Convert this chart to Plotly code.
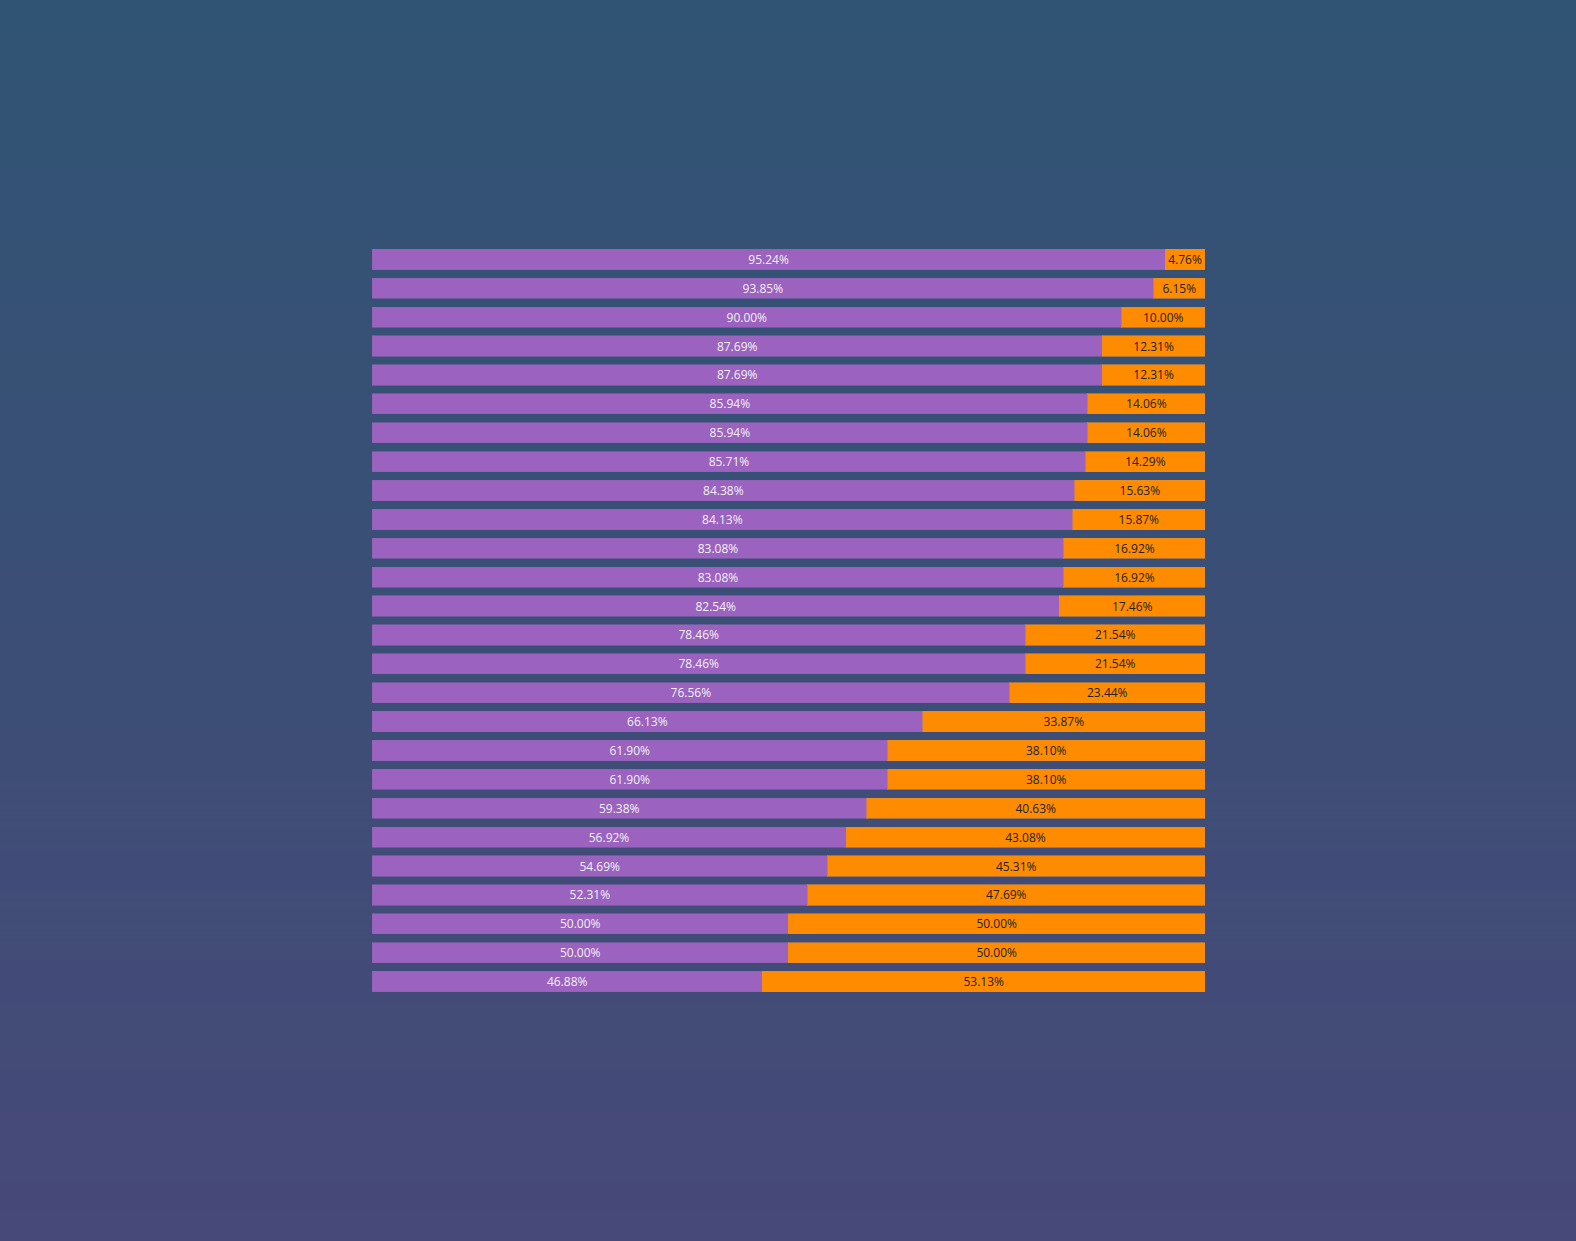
import plotly.graph_objects as go

categories = [f"Item {i}" for i in range(1, 27)]
share_a = [95.24, 93.85, 90.00, 87.69, 87.69, 85.94, 85.94, 85.71, 84.38, 84.13,
           83.08, 83.08, 82.54, 78.46, 78.46, 76.56, 66.13, 61.90, 61.90, 59.38,
           56.92, 54.69, 52.31, 50.00, 50.00, 46.88]
share_b = [4.76, 6.15, 10.00, 12.31, 12.31, 14.06, 14.06, 14.29, 15.63, 15.87,
           16.92, 16.92, 17.46, 21.54, 21.54, 23.44, 33.87, 38.10, 38.10, 40.63,
           43.08, 45.31, 47.69, 50.00, 50.00, 53.13]

W, H = 1576, 1241
ML, MR, MT, MB = 372, 371, 245, 245
PW = W - ML - MR
PH = H - MT - MB

TOP = (48, 84, 116)
BOT = (71, 73, 120)

fig = go.Figure()
fig.add_trace(go.Bar(
    y=categories, x=share_a, orientation="h", name="A",
    marker=dict(color="#9b62c0", line=dict(color="rgba(140,100,180,0.6)", width=1)),
    texttemplate="%{x:.2f}%", textposition="inside", insidetextanchor="middle",
    textfont=dict(color="#f2f2f2", size=12, family="Open Sans"),
    constraintext="none",
))
fig.add_trace(go.Bar(
    y=categories, x=share_b, orientation="h", name="B",
    marker=dict(color="#ff8c00", line=dict(color="rgba(230,140,40,0.6)", width=1)),
    texttemplate="%{x:.2f}%", textposition="inside", insidetextanchor="middle",
    textfont=dict(color="#222222", size=12, family="Open Sans"),
    constraintext="none",
))

# background gradient bands (paper coordinates spanning the whole canvas)
n = 124
shapes = []
x0 = -ML / PW
x1 = (W - ML) / PW
for i in range(n):
    t = (i + 0.5) / n
    c = tuple(round(TOP[k] + (BOT[k] - TOP[k]) * t) for k in range(3))
    ytop_px = H * i / n
    ybot_px = H * (i + 1) / n + 1
    yt = (H - MB - ytop_px) / PH
    yb = (H - MB - ybot_px) / PH
    shapes.append(dict(type="rect", xref="paper", yref="paper", x0=x0, x1=x1,
                       y0=yb, y1=yt, line=dict(width=0),
                       fillcolor=f"rgb({c[0]},{c[1]},{c[2]})", layer="below"))

fig.update_layout(
    width=W, height=H,
    margin=dict(l=ML, r=MR, t=MT, b=MB),
    barmode="stack", bargap=0.3,
    showlegend=False,
    paper_bgcolor=f"rgb{BOT}",
    plot_bgcolor="rgba(0,0,0,0)",
    shapes=shapes,
    font=dict(family="Open Sans"),
    xaxis=dict(range=[0, 100.01], visible=False, showgrid=False, zeroline=False),
    yaxis=dict(autorange="reversed", visible=False, showgrid=False, zeroline=False),
)

fig.write_html("out.html")
